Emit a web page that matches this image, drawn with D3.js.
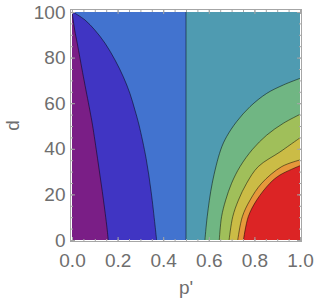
<!DOCTYPE html>
<html>
<head>
<meta charset="utf-8">
<script src="https://cdn.jsdelivr.net/npm/d3@7"></script>
<style>
  body { margin: 0; background: #fff; }
  svg text { font-family: "Liberation Sans", Arial, sans-serif; }
</style>
</head>
<body>
<div id="chart"></div>
<script>
// contour lines, [p', d], lowest level first
var contour1 = [[0, 100], [0.012, 92], [0.023, 86.3], [0.05, 71.6], [0.078, 57], [0.09, 50.4],
                [0.112, 35.8], [0.133, 21.2], [0.152, 6.6], [0.159, 0]];
var contour2 = [[0.004, 100], [0.057, 96.5], [0.10, 92.1], [0.145, 86.3], [0.189, 78.9], [0.225, 71.6],
                [0.254, 64.3], [0.276, 57], [0.294, 50.4], [0.325, 35.8], [0.347, 21.2], [0.364, 6.6], [0.371, 0]];
var contour3 = [[0.5, 100], [0.5, 0]];
var contour4 = [[1, 70.9], [0.927, 68], [0.854, 64.3], [0.781, 58.5], [0.722, 51.9], [0.678, 45.3],
                [0.652, 39.5], [0.615, 24.9], [0.593, 10.2], [0.583, 0]];
var contour5 = [[1, 55.1], [0.927, 51.2], [0.854, 46], [0.792, 39.8], [0.737, 32.2], [0.70, 24.9],
                [0.674, 17.5], [0.656, 10.2], [0.646, 0]];
var contour6 = [[1, 44.8], [0.956, 41.7], [0.912, 38.6], [0.817, 32.2], [0.766, 24.9], [0.73, 17.5],
                [0.705, 10.2], [0.689, 0]];
var contour7 = [[1, 35.1], [0.92, 32.2], [0.832, 24.9], [0.781, 17.5], [0.747, 10.2], [0.727, 0]];
var contour8 = [[1, 32.6], [0.912, 28.5], [0.868, 24.9], [0.81, 17.5], [0.773, 10.2], [0.752, 0]];

var xMajor = [0, 0.2, 0.4, 0.6, 0.8, 1.0];
var yMajor = [0, 20, 40, 60, 80, 100];

var contours = [contour1, contour2, contour3, contour4, contour5, contour6, contour7, contour8];
var bandColors = ["#7a1e86", "#4035c3", "#4273cf", "#4f9bb1", "#70b683", "#a0bf5a",
                  "#cbbc46", "#e6983b", "#dc2425"];

var width = 315, height = 302;

var x = d3.scaleLinear().domain([0, 1]).range([72, 300]);
var y = d3.scaleLinear().domain([0, 100]).range([240, 12]);

var svg = d3.select("#chart").append("svg")
    .attr("width", width)
    .attr("height", height);

svg.append("clipPath").attr("id", "plotclip")
  .append("rect")
    .attr("x", x(0)).attr("y", y(100))
    .attr("width", x(1) - x(0)).attr("height", y(0) - y(100));

var plot = svg.append("g").attr("clip-path", "url(#plotclip)");

// lowest band fills the whole area
plot.append("rect")
    .attr("x", x(0)).attr("y", y(100))
    .attr("width", x(1) - x(0)).attr("height", y(0) - y(100))
    .attr("fill", bandColors[0]);

var line = d3.line()
    .x(function(d) { return x(d[0]); })
    .y(function(d) { return y(d[1]); })
    .curve(d3.curveCatmullRom.alpha(0.5));

// each band: everything on the high side of its contour
contours.forEach(function(c, i) {
    var path = line(c);
    if (c[0][1] == 100) {
        path += "L" + x(1) + "," + y(0) + "L" + x(1) + "," + y(100) + "Z";
    } else {
        path += "L" + x(1) + "," + y(0) + "Z";
    }
    plot.append("path")
        .attr("d", path)
        .attr("fill", bandColors[i + 1]);
});

contours.forEach(function(c) {
    plot.append("path")
        .attr("d", line(c))
        .attr("fill", "none")
        .attr("stroke", "#000")
        .attr("stroke-opacity", 0.55)
        .attr("stroke-width", 0.9);
});

// frame
var frameColor = "#a6a6a6";
var fx0 = 70.5, fx1 = 301.5, fy0 = 9.5, fy1 = 241.5;
svg.append("rect")
    .attr("x", fx0).attr("y", fy0)
    .attr("width", fx1 - fx0).attr("height", fy1 - fy0)
    .attr("fill", "none")
    .attr("stroke", frameColor)
    .attr("stroke-width", 1);

var xMinor = d3.range(0, 1.0001, 0.05);
var yMinor = d3.range(0, 100.001, 5);

function styleAxis(g) {
    g.select(".domain").remove();
    g.selectAll(".tick line").attr("stroke", frameColor);
    g.selectAll(".tick text")
        .attr("fill", "#6e6e6e")
        .style("font-size", "19px")
        .style("font-family", "Liberation Sans, Arial, sans-serif");
}

// bottom
svg.append("g").attr("transform", "translate(0," + fy1 + ")")
    .call(d3.axisBottom(x).tickValues(xMinor).tickSize(-2.5).tickFormat(""))
    .call(styleAxis);
svg.append("g").attr("transform", "translate(0," + fy1 + ")")
    .call(d3.axisBottom(x).tickValues(xMajor).tickSize(-4.5).tickPadding(12).tickFormat(d3.format(".1f")))
    .call(styleAxis);
// top
svg.append("g").attr("transform", "translate(0," + fy0 + ")")
    .call(d3.axisTop(x).tickValues(xMinor).tickSize(-2.5).tickFormat(""))
    .call(styleAxis);
svg.append("g").attr("transform", "translate(0," + fy0 + ")")
    .call(d3.axisTop(x).tickValues(xMajor).tickSize(-4.5).tickFormat(""))
    .call(styleAxis);
// left
svg.append("g").attr("transform", "translate(" + fx0 + ",0)")
    .call(d3.axisLeft(y).tickValues(yMinor).tickSize(-2.5).tickFormat(""))
    .call(styleAxis);
svg.append("g").attr("transform", "translate(" + fx0 + ",0)")
    .call(d3.axisLeft(y).tickValues(yMajor).tickSize(-4.5).tickPadding(5).tickFormat(d3.format("d")))
    .call(styleAxis);
// right
svg.append("g").attr("transform", "translate(" + fx1 + ",0)")
    .call(d3.axisRight(y).tickValues(yMinor).tickSize(-2.5).tickFormat(""))
    .call(styleAxis);
svg.append("g").attr("transform", "translate(" + fx1 + ",0)")
    .call(d3.axisRight(y).tickValues(yMajor).tickSize(-4.5).tickFormat(""))
    .call(styleAxis);

// axis labels
svg.append("text")
    .attr("x", (fx0 + fx1) / 2)
    .attr("y", 294)
    .attr("text-anchor", "middle")
    .attr("fill", "#6e6e6e")
    .style("font-size", "19px")
    .text("p'");

svg.append("text")
    .attr("transform", "translate(19," + ((fy0 + fy1) / 2) + ") rotate(-90)")
    .attr("text-anchor", "middle")
    .attr("fill", "#6e6e6e")
    .style("font-size", "19px")
    .text("d");
</script>
</body>
</html>
